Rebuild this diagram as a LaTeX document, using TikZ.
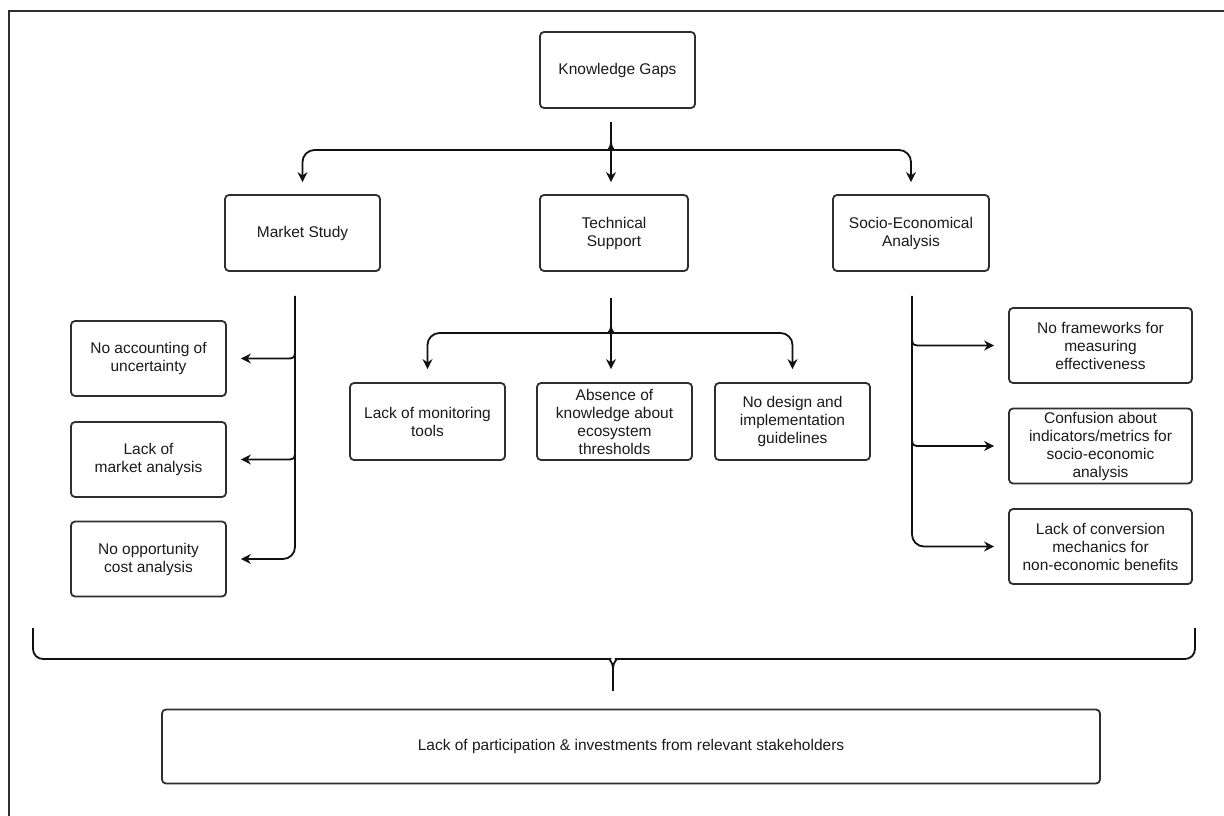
\documentclass[tikz,border=0pt]{standalone}
\usepackage{fontspec}
\setmainfont{Liberation Sans}
\usetikzlibrary{arrows.meta,calc}
\definecolor{edge}{HTML}{2E2E2E}
\definecolor{txt}{HTML}{1A1A1A}
\definecolor{wire}{HTML}{111111}
\begin{document}
\begin{tikzpicture}[x=1pt,y=-1pt,
  box/.style={draw=edge,line width=1.8pt,rounded corners=4pt,align=center,
    font=\fontsize{15.5}{18}\selectfont,text=txt,inner sep=0pt},
  midbox/.style={box,minimum width=155pt,minimum height=76pt},
  conn/.style={draw=wire,line width=1.8pt},
  arr/.style={conn,-{Stealth[length=10pt,width=10pt]}},
]
\useasboundingbox (0,0) rectangle (1224,816);
\draw[line width=1.5pt,edge] (9,816) -- (9,11) -- (1224,11);

% level 1 and 2
\node[midbox] (kg) at (617.5,70) {Knowledge Gaps};
\node[midbox] (ms) at (302.5,233) {Market Study};
\node[box,minimum width=148pt,minimum height=76pt] (ts) at (614,233) {Technical\\Support};
\node[box,minimum width=156pt,minimum height=76pt] (se) at (911,233) {Socio-Economical\\Analysis};

% market study children
\node[box,minimum width=155pt,minimum height=75pt] (a1) at (148.5,358.5) {No accounting of\\uncertainty};
\node[box,minimum width=155pt,minimum height=75pt] (a2) at (148.5,459.5) {Lack of\\market analysis};
\node[box,minimum width=155pt,minimum height=75pt] (a3) at (148.5,559) {No opportunity\\cost analysis};

% technical support children
\node[box,minimum width=155pt,minimum height=77pt] (t1) at (427.5,421.5) {Lack of monitoring\\tools};
\node[box,minimum width=155pt,minimum height=77pt] (t2) at (614.5,421.5) {Absence of\\knowledge about\\ecosystem\\thresholds};
\node[box,minimum width=155pt,minimum height=77pt] (t3) at (792.5,421.5) {No design and\\implementation\\guidelines};

% socio-economic children
\node[box,minimum width=183pt,minimum height=75pt] (s1) at (1100.5,345.5) {No frameworks for\\measuring\\effectiveness};
\node[box,minimum width=183pt,minimum height=75pt] (s2) at (1100.5,446) {Confusion about\\indicators/metrics for\\socio-economic\\analysis};
\node[box,minimum width=183pt,minimum height=75pt] (s3) at (1100.5,546.5) {Lack of conversion\\mechanics for\\non-economic benefits};

% bottom
\node[box,minimum width=938pt,minimum height=74pt] (bot) at (631,746.5) {Lack of participation \& investments from relevant stakeholders};

% --- Knowledge Gaps connectors
\coordinate (kgj) at (611,142);
\draw[arr] ([xshift=-6.5pt,yshift=-13pt]kg.south) -- ([xshift=-3pt,yshift=12pt]ts.north);
\draw[arr,rounded corners=12pt] (kgj) .. controls (611,150) and (605,150) .. (599,150)
   -- (ms.north |- 0,150) -- ([yshift=12pt]ms.north);
\draw[arr,rounded corners=12pt] (kgj) .. controls (611,150) and (617,150) .. (623,150)
   -- (se.north |- 0,150) -- ([yshift=12pt]se.north);

% --- Market Study connectors
\coordinate (mst) at ([xshift=-7.5pt,yshift=-24pt]ms.south);
\draw[arr,rounded corners=12pt] (mst) -- (mst |- a3) -- ([xshift=14pt]a3.east);
\draw[arr] ($(mst |- a1)+(0,-10)$) .. controls (mst |- a1) .. ($(mst |- a1)+(-10,0)$) -- ([xshift=14pt]a1.east);
\draw[arr] ($(mst |- a2)+(0,-10)$) .. controls (mst |- a2) .. ($(mst |- a2)+(-10,0)$) -- ([xshift=14pt]a2.east);

% --- Technical Support connectors
\coordinate (tst) at ([xshift=-3pt,yshift=-26pt]ts.south);
\coordinate (tj) at (611,326);
\coordinate (th) at (611,333);
\draw[arr] (tst) -- ([yshift=13pt]t2.north -| tst);
\draw[arr,rounded corners=12pt] (tj) .. controls (th) and (605,333) .. (599,333)
   -- (t1.north |- th) -- ([yshift=13pt]t1.north);
\draw[arr,rounded corners=12pt] (tj) .. controls (th) and (617,333) .. (623,333)
   -- (t3.north |- th) -- ([yshift=13pt]t3.north);

% --- Socio-Economical connectors
\coordinate (sst) at ([xshift=1pt,yshift=-24pt]se.south);
\draw[arr,rounded corners=12pt] (sst) -- (sst |- s3) -- ([xshift=-14pt]s3.west);
\draw[arr] ($(sst |- s1)+(0,-10)$) .. controls (sst |- s1) .. ($(sst |- s1)+(10,0)$) -- ([xshift=-14pt]s1.west);
\draw[arr] ($(sst |- s2)+(0,-10)$) .. controls (sst |- s2) .. ($(sst |- s2)+(10,0)$) -- ([xshift=-14pt]s2.west);

% --- big brace
\coordinate (bc) at (613,668);
\coordinate (bl) at (33,628);
\coordinate (br) at (1195,628);
\draw[conn,rounded corners=10pt] (bl) -- (33,659) -- (600,659) .. controls (608,659) and (613,662) .. (bc);
\draw[conn,rounded corners=10pt] (br) -- (1195,659) -- (626,659) .. controls (618,659) and (613,662) .. (bc);
\draw[conn] (bc) -- ([yshift=18pt]bot.north -| bc);
\end{tikzpicture}
\end{document}
